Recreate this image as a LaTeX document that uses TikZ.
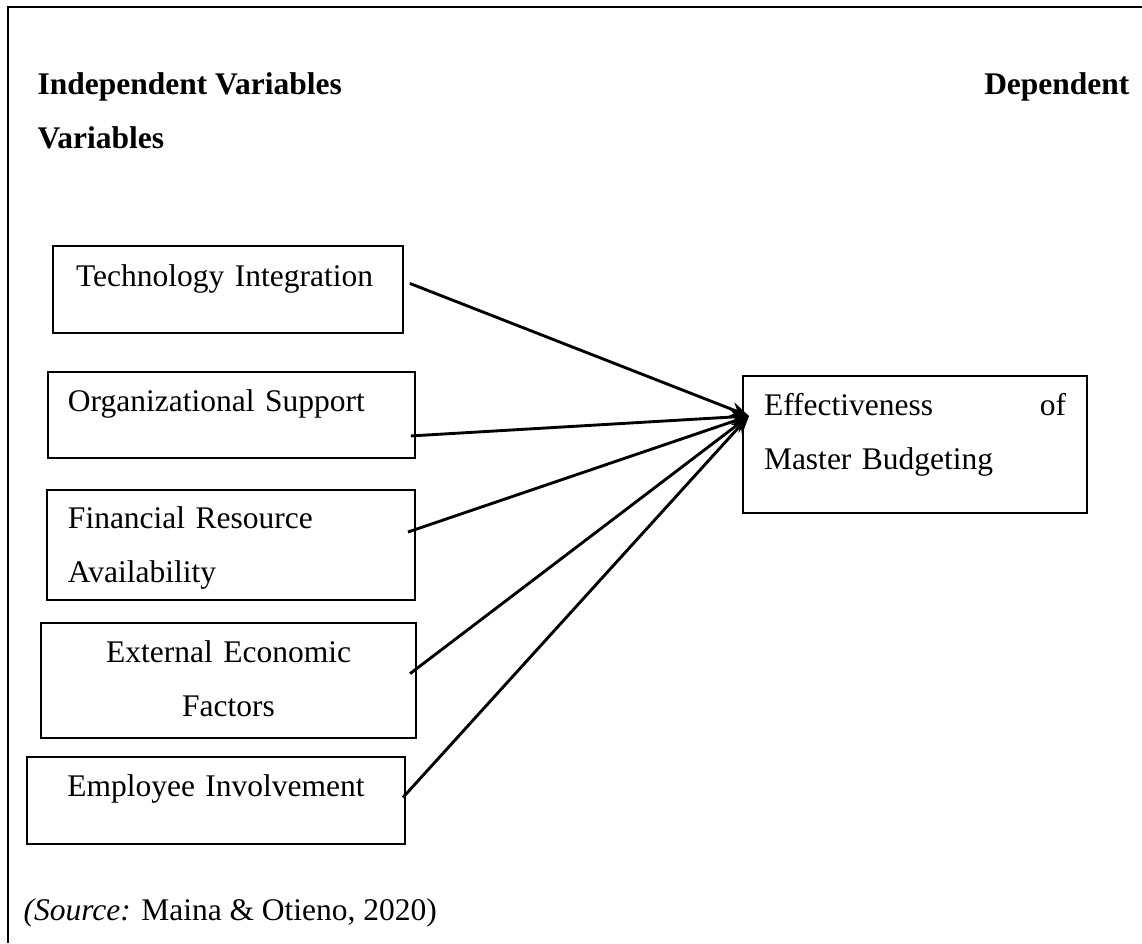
\documentclass[tikz,border=0pt]{standalone}
\usepackage{fontspec}
\setmainfont{Liberation Serif}
\usepackage{tikz}
\usetikzlibrary{arrows.meta}

\tikzset{
  varbox/.style={draw, line width=0.7pt, anchor=north west, outer sep=0pt,
    inner ysep=0pt, inner xsep=8pt, align=left},
  heading/.style={font=\fontsize{12}{20.8}\selectfont\bfseries, inner sep=0pt},
  link/.style={line width=1.1pt, -{Stealth[length=7pt, width=5.5pt]}},
}

\begin{document}
\begin{tikzpicture}[x=0.381pt, y=-0.381pt, font=\fontsize{12}{20.8}\selectfont]
    \useasboundingbox (0,0) rectangle (1142,943);
    \draw[line width=1.1pt] (8,943) -- (8,7) -- (1142,7);

    \node[heading, anchor=base west] (indep) at (37,94){Independent Variables};
    \node[heading, anchor=base east] (dep) at (1130,94){Dependent};
    \node[heading, anchor=base west] (vars) at (37,148){Variables};

    \node[varbox, inner xsep=8.8pt, text width=115.7pt, text height=15.6pt, text depth=17.5pt] (tech) at (53,246){Technology Integration};
    \node[varbox, inner xsep=7.6pt, text width=124.6pt, text height=15.2pt, text depth=17.5pt] (org) at (48,372){Organizational Support};
    \node[varbox, text width=124.2pt, text height=14.5pt, text depth=27.4pt] (fin) at (47,490){Financial Resource\\Availability};
    \node[varbox, align=center, text width=126.9pt, text height=14.9pt, text depth=29pt] (ext) at (41,623){External Economic\\Factors};
    \node[varbox, align=center, text width=128pt, text height=15.2pt, text depth=17.9pt] (emp) at (27,757){Employee Involvement};
    \node[varbox, text width=115.1pt, text height=14.9pt, text depth=37.3pt] (eff) at (743,376){Effectiveness\hfill of\\Master Budgeting};

    \coordinate (hub) at ([shift={(6,40)}]eff.north west);
    \draw[link] ([shift={(7,-6)}]tech.east) -- (hub);
    \draw[link] ([shift={(-4,21)}]org.east) -- (hub);
    \draw[link] ([shift={(-7,-13)}]fin.east) -- (hub);
    \draw[link] ([shift={(-6,-7)}]ext.east) -- (hub);
    \draw[link] ([shift={(-2,-3)}]emp.east) -- (hub);

    \node[anchor=base west, inner sep=0pt] (src) at (23,920){\textit{(Source:} Maina \& Otieno, 2020)};
\end{tikzpicture}
\end{document}
